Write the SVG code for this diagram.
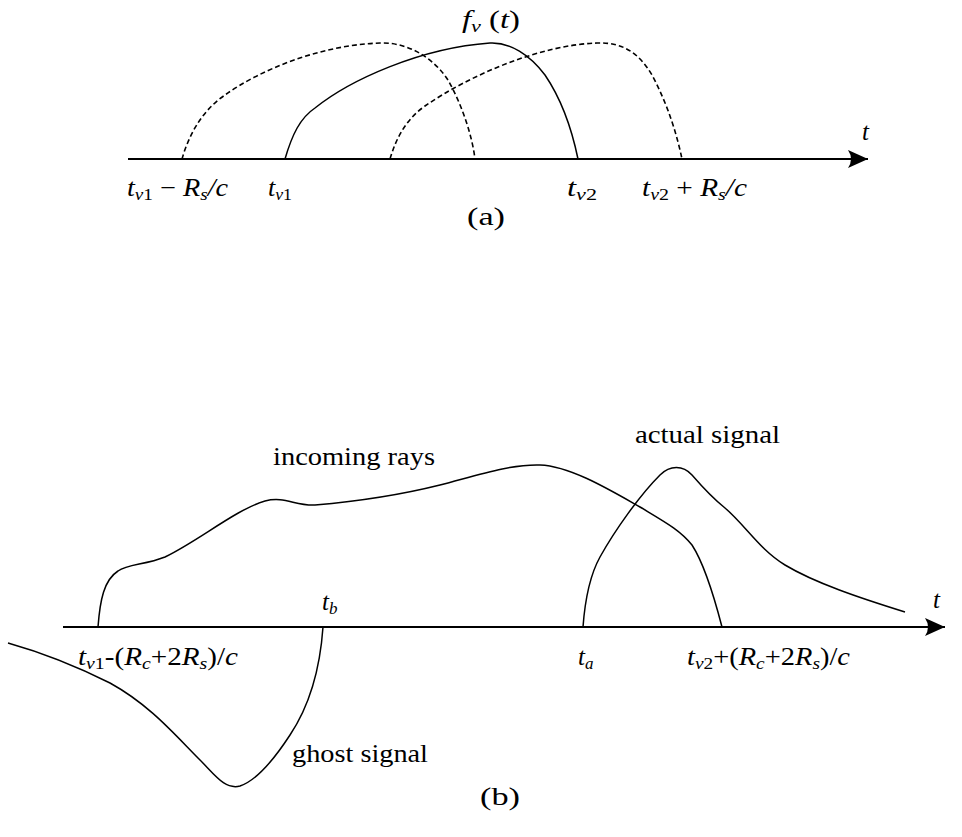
<svg xmlns="http://www.w3.org/2000/svg" width="962" height="837" viewBox="0 0 962 837">
<style>
.ax{fill:none;stroke:#000;stroke-width:2}
.cv{fill:none;stroke:#000;stroke-width:1.5}
.ds{fill:none;stroke:#000;stroke-width:1.6;stroke-dasharray:5 3}
.t text{font-size:25px;fill:#000}
.m{font-style:italic}
.s{font-size:17px}
</style>
<defs>
<marker id="arr" markerWidth="24" markerHeight="20" refX="20" refY="9" orient="auto" markerUnits="userSpaceOnUse">
<path d="M20,9 L0,0 Q6,9 0,18 Z" fill="#000"/>
</marker>
</defs>
<rect width="962" height="837" fill="#fff"/>
<g id="connectors">
<path class="ax" d="M128,159 H868" marker-end="url(#arr)"/>
<path class="ax" d="M63,627 H945" marker-end="url(#arr)"/>
</g>
<g id="panel-a" class="t" font-family="Liberation Serif, Times New Roman, serif">
<path id="dash1" class="ds" d="M182,159 C188,138 200,112 225,95 C260,70 320,45 380,43 C410,42 435,60 448,80 C462,105 472,135 475,159"/>
<path id="fv" class="cv" d="M285,159 C292,135 300,118 315,108 C350,80 420,48 490,43 C510,42 530,55 545,75 C562,100 572,130 578,159"/>
<path id="dash2" class="ds" d="M390,159 C397,135 408,118 425,106 C470,75 540,45 597,43 C625,42 640,55 652,75 C668,105 677,135 682,159"/>
<text x="462" y="28" textLength="58" lengthAdjust="spacingAndGlyphs"><tspan class="m">f</tspan><tspan class="m s" dy="4">v</tspan><tspan dy="-4"> (</tspan><tspan class="m">t</tspan>)</text>
<text class="m" x="862" y="140">t</text>
<text x="127" y="196" textLength="101" lengthAdjust="spacingAndGlyphs"><tspan class="m">t</tspan><tspan class="m s" dy="4">v</tspan><tspan class="s">1</tspan><tspan dy="-4"> − </tspan><tspan class="m">R</tspan><tspan class="m s" dy="4">s</tspan><tspan class="m" dy="-4">/c</tspan></text>
<text x="268" y="196" textLength="24" lengthAdjust="spacingAndGlyphs"><tspan class="m">t</tspan><tspan class="m s" dy="4">v</tspan><tspan class="s">1</tspan></text>
<text x="567" y="196" textLength="30" lengthAdjust="spacingAndGlyphs"><tspan class="m">t</tspan><tspan class="m s" dy="4">v</tspan><tspan class="s">2</tspan></text>
<text x="642" y="196" textLength="105" lengthAdjust="spacingAndGlyphs"><tspan class="m">t</tspan><tspan class="m s" dy="4">v</tspan><tspan class="s">2</tspan><tspan dy="-4"> + </tspan><tspan class="m">R</tspan><tspan class="m s" dy="4">s</tspan><tspan class="m" dy="-4">/c</tspan></text>
<text x="467" y="225" textLength="38" lengthAdjust="spacingAndGlyphs">(a)</text>
</g>
<g id="panel-b" class="t" font-family="Liberation Serif, Times New Roman, serif">
<path id="incoming" class="cv" d="M98,627 C100,600 104,580 118,571 C128,564 145,565 165,557 C200,540 235,510 265,501 C285,496 295,506 315,505 C350,502 400,495 440,485 C475,476 510,464 540,465 C570,466 610,490 640,507 C665,522 680,530 692,545 C705,565 715,600 722,627"/>
<path id="actual" class="cv" d="M583,627 C585,600 590,575 600,557 C615,530 640,495 660,475 C670,465 683,465 692,475 C705,490 715,500 725,508 C745,525 760,550 785,565 C815,583 860,598 905,612"/>
<path id="ghost" class="cv" d="M8,643 C40,652 80,668 110,683 C150,705 175,735 200,760 C215,775 225,790 240,786 C258,780 275,758 290,735 C310,705 320,670 323,627"/>
<text x="273" y="465" textLength="162" lengthAdjust="spacingAndGlyphs">incoming rays</text>
<text x="635" y="443" textLength="145" lengthAdjust="spacingAndGlyphs">actual signal</text>
<text x="292" y="762" textLength="136" lengthAdjust="spacingAndGlyphs">ghost signal</text>
<text class="m" x="933" y="608">t</text>
<text x="322" y="610"><tspan class="m">t</tspan><tspan class="m s" dy="4">b</tspan></text>
<text x="78" y="665" textLength="160" lengthAdjust="spacingAndGlyphs"><tspan class="m">t</tspan><tspan class="m s" dy="4">v</tspan><tspan class="s">1</tspan><tspan dy="-4">-(</tspan><tspan class="m">R</tspan><tspan class="m s" dy="4">c</tspan><tspan dy="-4">+2</tspan><tspan class="m">R</tspan><tspan class="m s" dy="4">s</tspan><tspan dy="-4">)/</tspan><tspan class="m">c</tspan></text>
<text x="578" y="665"><tspan class="m">t</tspan><tspan class="m s" dy="4">a</tspan></text>
<text x="687" y="665" textLength="163" lengthAdjust="spacingAndGlyphs"><tspan class="m">t</tspan><tspan class="m s" dy="4">v</tspan><tspan class="s">2</tspan><tspan dy="-4">+(</tspan><tspan class="m">R</tspan><tspan class="m s" dy="4">c</tspan><tspan dy="-4">+2</tspan><tspan class="m">R</tspan><tspan class="m s" dy="4">s</tspan><tspan dy="-4">)/</tspan><tspan class="m">c</tspan></text>
<text x="480" y="805" textLength="40" lengthAdjust="spacingAndGlyphs">(b)</text>
</g>
</svg>
